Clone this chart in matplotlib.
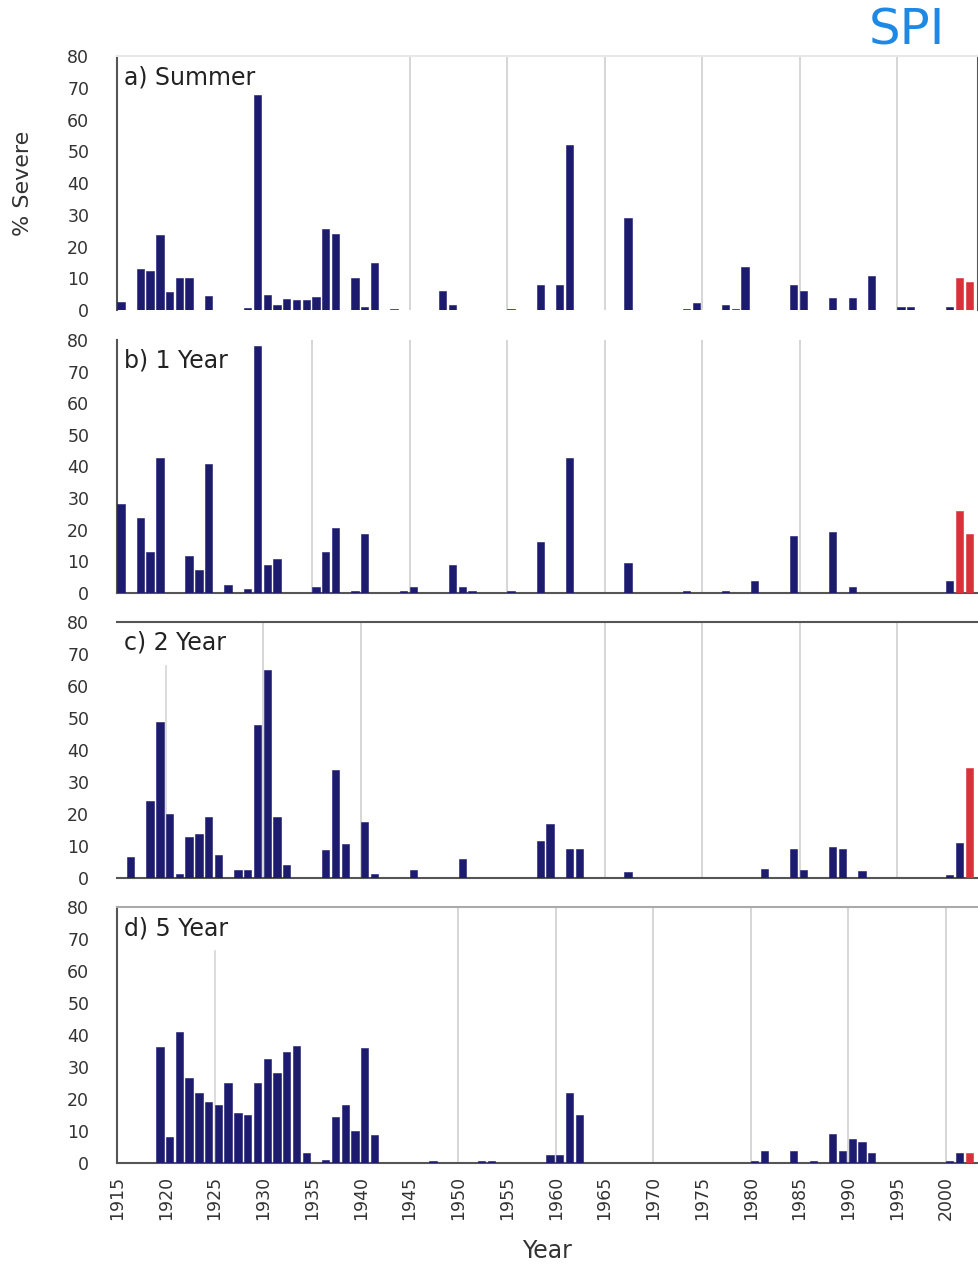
import numpy as np
import matplotlib.pyplot as plt

# % of area in severe drought, by year (years not listed are zero)
summer_years = [1915, 1917, 1918, 1919, 1920, 1921, 1922, 1924, 1928, 1929, 1930, 1931,
                1932, 1933, 1934, 1935, 1936, 1937, 1939, 1940, 1941, 1943, 1948, 1949,
                1955, 1958, 1960, 1961, 1967, 1973, 1974, 1977, 1978, 1979, 1984, 1985,
                1988, 1990, 1992, 1995, 1996, 2000, 2001, 2002]
summer_vals = [2.4, 12.8, 12.2, 23.8, 5.6, 10.1, 10.1, 4.3, 0.5, 67.7, 4.8, 1.7,
               3.5, 3.2, 3.2, 4.2, 25.6, 24.0, 10.1, 1.0, 14.7, 0.4, 6.1, 1.7,
               0.4, 8.0, 8.0, 51.9, 29.0, 0.4, 2.2, 1.6, 0.4, 13.5, 8.0, 6.1,
               3.7, 3.7, 10.8, 1.0, 1.0, 1.0, 10.1, 8.7]
summer_red = [2001, 2002]

year1_years = [1915, 1917, 1918, 1919, 1922, 1923, 1924, 1926, 1928, 1929, 1930, 1931,
               1935, 1936, 1937, 1939, 1940, 1944, 1945, 1949, 1950, 1951, 1955, 1958,
               1961, 1967, 1973, 1977, 1980, 1984, 1988, 1990, 2000, 2001, 2002]
year1_vals = [28.0, 23.8, 12.9, 42.7, 11.6, 7.2, 40.8, 2.4, 1.4, 78.0, 8.9, 10.8,
              1.9, 12.9, 20.6, 0.6, 18.7, 0.6, 1.9, 8.9, 1.9, 0.6, 0.6, 16.1,
              42.7, 9.6, 0.6, 0.6, 3.8, 18.0, 19.4, 1.9, 3.8, 25.9, 18.7]
year1_red = [2001, 2002]

year2_years = [1916, 1918, 1919, 1920, 1921, 1922, 1923, 1924, 1925, 1927, 1928, 1929,
               1930, 1931, 1932, 1936, 1937, 1938, 1940, 1941, 1945, 1950, 1958, 1959,
               1961, 1962, 1967, 1981, 1984, 1985, 1988, 1989, 1991, 2000, 2001, 2002]
year2_vals = [6.5, 24.0, 48.6, 20.1, 1.3, 12.8, 13.6, 19.0, 7.3, 2.6, 2.6, 47.9,
              64.9, 19.0, 3.9, 8.6, 33.8, 10.5, 17.6, 1.3, 2.6, 5.8, 11.5, 16.9,
              8.9, 8.9, 1.9, 2.9, 8.9, 2.4, 9.6, 8.9, 2.3, 1.0, 11.0, 34.3]
year2_red = [2002]

year5_years = [1919, 1920, 1921, 1922, 1923, 1924, 1925, 1926, 1927, 1928, 1929, 1930,
               1931, 1932, 1933, 1934, 1936, 1937, 1938, 1939, 1940, 1941, 1947, 1952,
               1953, 1959, 1960, 1961, 1962, 1980, 1981, 1984, 1986, 1988, 1989, 1990,
               1991, 1992, 2000, 2001, 2002]
year5_vals = [36.3, 8.2, 40.8, 26.5, 22.0, 19.1, 18.0, 25.1, 15.6, 15.0, 25.1, 32.4,
              28.2, 34.8, 36.6, 3.1, 1.0, 14.3, 18.1, 10.1, 36.1, 8.9, 0.5, 0.5,
              0.5, 2.6, 2.6, 22.0, 15.0, 0.5, 3.8, 3.9, 0.5, 9.1, 3.9, 7.6,
              6.6, 3.1, 0.5, 3.1, 3.1]
year5_red = [2002]

panel_labels = ["a) Summer", "b) 1 Year", "c) 2 Year", "d) 5 Year"]
xtick_years = list(range(1915, 2001, 5))
ytick_vals = list(range(0, 81, 10))

# vertical guide lines as they appear in each panel
grid_years = [
    [1945, 1955, 1965, 1975, 1985, 1995],
    [1935, 1945, 1955, 1965, 1975, 1985],
    [1930, 1940, 1965, 1975, 1985, 1995],
    [1950, 1960, 1970, 1980, 1990, 2000],
]
short_grid = [None, None, 1920, 1925]

NAVY = "#1d1b6e"
RED = "#d9303a"

panels = [
    (summer_years, summer_vals, summer_red),
    (year1_years, year1_vals, year1_red),
    (year2_years, year2_vals, year2_red),
    (year5_years, year5_vals, year5_red),
]

plt.rcParams['font.family'] = ['DejaVu Sans']

fig = plt.figure(figsize=(9.79, 12.64), dpi=100)
left, width = 0.1195, 0.8795
bottoms = [0.7547, 0.5309, 0.3054, 0.0799]
heights = [0.2009, 0.2001, 0.2025, 0.2025]

axes = []
for i, (yrs, vals, reds) in enumerate(panels):
    ax = fig.add_axes([left, bottoms[i], width, heights[i]])
    axes.append(ax)
    colors = [RED if y in reds else NAVY for y in yrs]
    ax.bar(np.array(yrs) + 0.4, vals, width=0.75, color=colors,
           edgecolor=colors, linewidth=0.4, zorder=3)
    for g in grid_years[i]:
        ax.axvline(g, color="#d6d6d6", lw=1.4, zorder=1)
    if short_grid[i] is not None:
        ax.axvline(short_grid[i], ymax=0.83, color="#d6d6d6", lw=1.2, zorder=1)

    ax.set_xlim(1915, 2003.3)
    ax.set_ylim(0, 80)
    ax.set_yticks(ytick_vals)
    ax.tick_params(axis='y', length=0, pad=20, labelsize=12.5, labelcolor="#333333")
    ax.set_xticks(xtick_years)
    if i < 3:
        ax.tick_params(axis='x', length=0, labelbottom=False)
    else:
        ax.set_xticklabels([str(y) for y in xtick_years], rotation=90)
        ax.tick_params(axis='x', length=0, pad=9, labelsize=12.5, labelcolor="#333333")

    ax.text(0.008, 0.965, panel_labels[i], transform=ax.transAxes,
            ha='left', va='top', fontsize=17, color="#222222")

    for s in ax.spines.values():
        s.set_linewidth(1.5)
        s.set_color("#555555")

# spine appearance per panel
a, b, c, d = axes
a.spines['bottom'].set_visible(False)
a.spines['top'].set_color("#e8e8e8")
b.spines['top'].set_visible(False)
b.spines['right'].set_visible(False)
c.spines['left'].set_visible(False)
c.spines['right'].set_visible(False)
d.spines['top'].set_color("#aaaaaa")
d.spines['right'].set_visible(False)

a.set_ylabel("% Severe", fontsize=16, color="#333333")
a.yaxis.set_label_coords(-0.097, 0.5)
d.set_xlabel("Year", fontsize=17, color="#333333", labelpad=14)

fig.text(0.926, 0.976, "SPI", ha='center', va='center', fontsize=36, color="#1e88e5")

fig.savefig("out.png", dpi=100)
